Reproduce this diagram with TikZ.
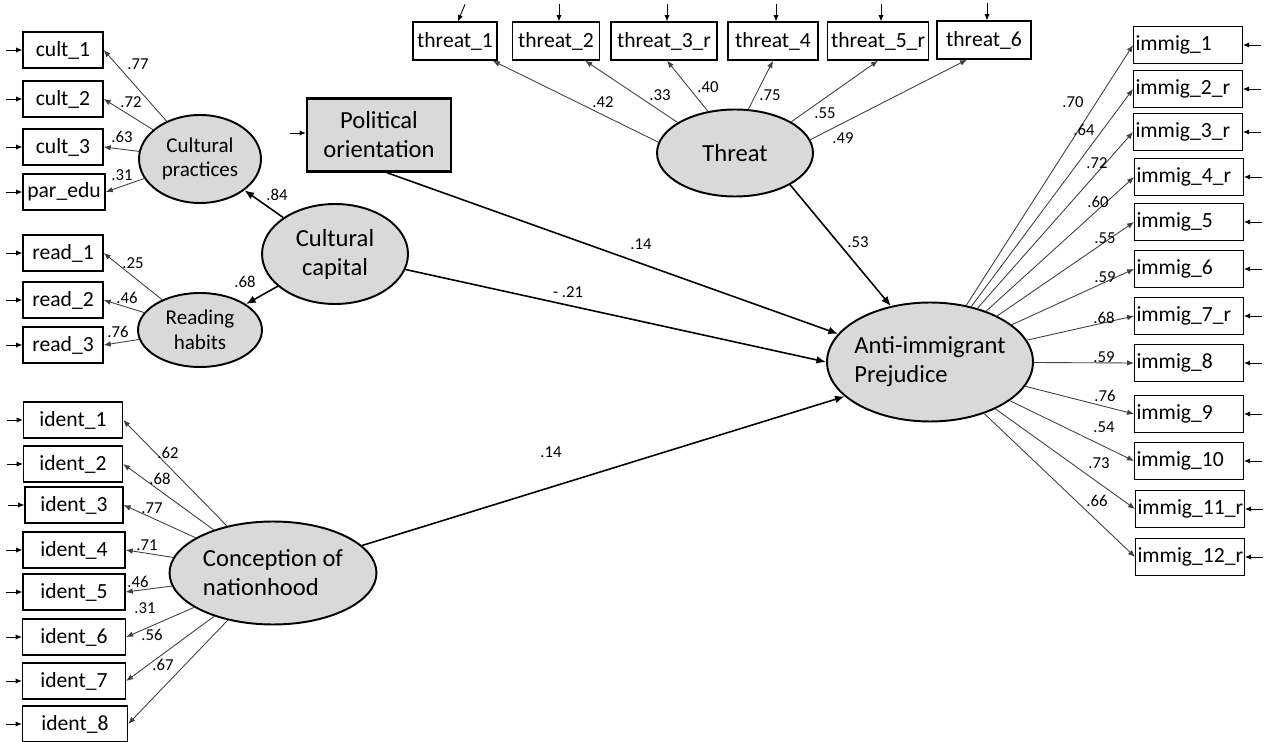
\documentclass[tikz,border=0pt]{standalone}
\usepackage{fontspec}
\setmainfont{Carlito}
\usepackage{tikz}
\usetikzlibrary{arrows.meta,shapes.geometric,calc}
\definecolor{LatentFill}{HTML}{D9D9D9}
\definecolor{LoadLine}{HTML}{404040}
\newcommand{\boxfont}{\fontsize{12.3}{14}\selectfont}
\newcommand{\bigfont}{\fontsize{14}{16.5}\selectfont}
\newcommand{\smallfont}{\fontsize{12}{14}\selectfont}
\newcommand{\coeffont}{\fontsize{9.5}{11}\selectfont}
\tikzset{
  obs/.style={draw, line width=0.8pt, minimum height=0.72cm, inner sep=1pt, font=\boxfont},
  item/.style={obs, minimum height=0.74cm, text width=2.1cm, align=left},
  latent/.style={draw, ellipse, line width=1.1pt, fill=LatentFill, inner sep=0pt, align=center, font=\bigfont},
  coef/.style={font=\coeffont, inner sep=0pt},
  load/.style={LoadLine, line width=0.5pt, -{Latex[length=4pt,width=3.2pt]}},
  effect/.style={black, line width=0.9pt, -{Latex[length=5.5pt,width=4.4pt]}},
  err/.style={line width=0.5pt, -{Latex[length=3.5pt,width=3pt]}}
}

\begin{document}
\begin{tikzpicture}[x=0.02cm, y=-0.02cm]
\useasboundingbox (0,0) rectangle (1267,742);
% latent variables
\node[latent, font=\smallfont, minimum width=2.44cm, minimum height=1.76cm] (cp) at (200,159) {Cultural\\practices};
\node[latent, font=\smallfont, minimum width=2.48cm, minimum height=1.48cm] (rh) at (200,330) {Reading\\habits};
\node[latent, minimum width=2.92cm, minimum height=2cm] (cc) at (335,254) {Cultural\\capital};
\node[latent, minimum width=3.12cm, minimum height=1.74cm] (thr) at (735,153) {Threat};
\node[latent, inner sep=-3pt, align=left, minimum width=4.12cm, minimum height=2.38cm] (anti) at (930,362) {Anti-immigrant\\Prejudice};
\node[latent, align=left, minimum width=4.14cm, minimum height=2.06cm] (cn) at (273,573) {Conception of\\nationhood};
\node[draw, line width=1.4pt, fill=LatentFill, align=center, font=\bigfont, minimum width=2.88cm, minimum height=1.46cm] (po) at (379,135) {Political\\orientation};

% indicators
\node[obs, minimum width=1.6cm] (c1) at (63,50) {cult\_1};
\node[obs, minimum width=1.6cm] (c2) at (63,99) {cult\_2};
\node[obs, minimum width=1.6cm] (c3) at (63,147) {cult\_3};
\node[obs, minimum width=1.64cm] (c4) at (64,192) {par\_edu};
\node[obs, minimum width=1.6cm] (r1) at (63,253) {read\_1};
\node[obs, minimum width=1.6cm] (r2) at (63,300) {read\_2};
\node[obs, minimum width=1.6cm] (r3) at (63,345) {read\_3};
\node[obs, minimum width=1.98cm] (i1) at (73,420) {ident\_1};
\node[obs, minimum width=1.98cm] (i2) at (73,464) {ident\_2};
\node[obs, minimum width=1.96cm] (i3) at (74,505) {ident\_3};
\node[obs, minimum width=2.04cm] (i4) at (74,550) {ident\_4};
\node[obs, minimum width=2.04cm] (i5) at (74,592) {ident\_5};
\node[obs, minimum width=2.06cm] (i6) at (74,637) {ident\_6};
\node[obs, minimum width=2.06cm] (i7) at (74,681) {ident\_7};
\node[obs, minimum width=2.1cm] (i8) at (75,724) {ident\_8};
\node[obs, minimum height=0.76cm, minimum width=1.68cm] (t1) at (455,41) {threat\_1};
\node[obs, minimum height=0.76cm, minimum width=1.74cm] (t2) at (556,41) {threat\_2};
\node[obs, minimum height=0.76cm, minimum width=2.12cm] (t3) at (664,41) {threat\_3\_r};
\node[obs, minimum height=0.76cm, minimum width=1.8cm] (t4) at (773,41) {threat\_4};
\node[obs, minimum height=0.76cm, minimum width=2.02cm] (t5) at (878,41) {threat\_5\_r};
\node[obs, minimum height=0.76cm, minimum width=1.88cm] (t6) at (984,40) {threat\_6};
\node[item] (m1) at (1188,45) {immig\_1};
\node[item] (m2) at (1188,89) {immig\_2\_r};
\node[item] (m3) at (1188,132) {immig\_3\_r};
\node[item] (m4) at (1189,177) {immig\_4\_r};
\node[item] (m5) at (1189,222) {immig\_5};
\node[item] (m6) at (1189,269) {immig\_6};
\node[item] (m7) at (1189,316) {immig\_7\_r};
\node[item] (m8) at (1189,363) {immig\_8};
\node[item] (m9) at (1189,414) {immig\_9};
\node[item] (m10) at (1189,461) {immig\_10};
\node[item] (m11) at (1190,509) {immig\_11\_r};
\node[item] (m12) at (1190,557) {immig\_12\_r};

% error terms
\foreach \b in {c1,c2,c3,c4,r1,r2,r3,i1,i2,i3,i4,i5,i6,i7,i8}
  \draw[err] ($(\b.west)+(-16,0)$) -- (\b.west);
\foreach \b in {m1,m2,m3,m4,m5,m6,m7,m8,m9,m10,m11,m12}
  \draw[err] ($(\b.east)+(18,0)$) -- (\b.east);
\foreach \b in {t2,t3,t4,t5,t6}
  \draw[err] ($(\b.north)+(3,-17)$) -- ($(\b.north)+(3,0)$);
\draw[err] ($(t1.north)+(10,-17)$) -- ($(t1.north)+(3,0)$);
\draw[err] ($(po.west)+(-16,-2)$) -- ($(po.west)+(0,-2)$);

% loadings
\draw[load] (cp) -- (c1.east);
\draw[load] (cp) -- (c2.east);
\draw[load] (cp) -- (c3.east);
\draw[load] (cp) -- (c4.east);
\draw[load] (rh) -- (r1.east);
\draw[load] (rh) -- (r2.east);
\draw[load] (rh) -- (r3.east);
\foreach \b in {i1,i2,i3,i4,i5,i6,i7,i8}
  \draw[load] (cn) -- (\b.east);
\foreach \b in {m1,m2,m3,m4,m5,m6,m7,m8,m9,m10,m11,m12}
  \draw[load] (anti) -- (\b.west);
\draw[load] (thr.172) -- ($(t1.south east)+(-5,0)$);
\draw[load] (thr.152) -- ($(t2.south east)+(-15,0)$);
\draw[load] (thr.123) -- ($(t3.south)+(3,0)$);
\draw[load] (thr.73) -- (t4.south);
\draw[load] (thr.29) -- (t5.south);
\draw[load] (thr.10) -- ($(t6.south)+(-17,0)$);

% structural paths
\draw[effect] (cc) -- (cp);
\draw[effect] (cc) -- (rh);
\draw[effect] ($(po.south)+(8,0)$) -- (anti.163);
\draw[effect] (cc) -- (anti.west);
\draw[effect] (thr.-30) -- (anti.125);
\draw[effect] (cn) -- (anti.202);

% coefficients
\node[coef] (w-c1) at (138,64) {.77};
\node[coef] (w-c2) at (131,102) {.72};
\node[coef] (w-c3) at (122,137) {.63};
\node[coef] (w-c4) at (122,175) {.31};
\node[coef] (w-cp) at (277,195) {.84};
\node[coef] (w-r1) at (133,263) {.25};
\node[coef] (w-r2) at (127,298) {.46};
\node[coef] (w-r3) at (118,332) {.76};
\node[coef] (w-rh) at (245,282) {.68};
\node[coef] (w-i1) at (168,453) {.62};
\node[coef] (w-i2) at (160,479) {.68};
\node[coef] (w-i3) at (152,508) {.77};
\node[coef] (w-i4) at (147,545) {.71};
\node[coef] (w-i5) at (138,582) {.46};
\node[coef] (w-i6) at (145,608) {.31};
\node[coef] (w-i7) at (152,635) {.56};
\node[coef] (w-i8) at (163,665) {.67};
\node[coef] (w-t1) at (603,102) {.42};
\node[coef] (w-t2) at (660,95) {.33};
\node[coef] (w-t3) at (708,87) {.40};
\node[coef] (w-t4) at (770,95) {.75};
\node[coef] (w-t5) at (825,113) {.55};
\node[coef] (w-t6) at (843,138) {.49};
\node[coef] (w-m1) at (1073,102) {.70};
\node[coef] (w-m2) at (1084,130) {.64};
\node[coef] (w-m3) at (1097,163) {.72};
\node[coef] (w-m4) at (1098,202) {.60};
\node[coef] (w-m5) at (1105,238) {.55};
\node[coef] (w-m6) at (1105,277) {.59};
\node[coef] (w-m7) at (1104,318) {.68};
\node[coef] (w-m8) at (1104,357) {.59};
\node[coef] (w-m9) at (1105,396) {.76};
\node[coef] (w-m10) at (1104,427) {.54};
\node[coef] (w-m11) at (1099,463) {.73};
\node[coef] (w-m12) at (1097,501) {.66};
\node[coef] (w-po) at (641,244) {.14};
\node[coef] (w-cc) at (568,292) {- .21};
\node[coef] (w-thr) at (858,242) {.53};
\node[coef] (w-cn) at (551,452) {.14};
\end{tikzpicture}
\end{document}
